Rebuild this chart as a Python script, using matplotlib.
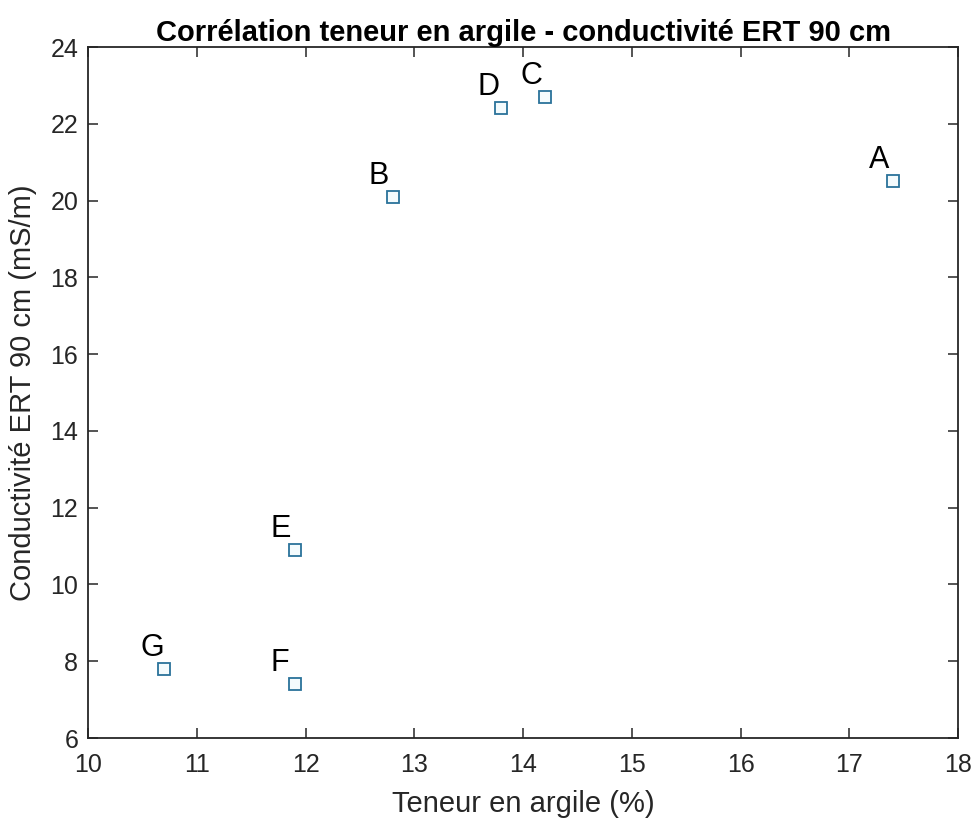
import matplotlib.pyplot as plt

plt.rcParams['font.family'] = ['Liberation Sans', 'DejaVu Sans']

# sample points
names = ['A', 'B', 'C', 'D', 'E', 'F', 'G']
argile = [17.4, 12.8, 14.2, 13.8, 11.9, 11.9, 10.7]
conduct = [20.5, 20.1, 22.7, 22.4, 10.9, 7.4, 7.8]

fig = plt.figure(figsize=(9.79, 8.19), dpi=100)
ax = fig.add_axes([0.0899, 0.0989, 0.8887, 0.8437])

ax.plot(argile, conduct, linestyle='none', marker='s', markersize=9,
        markerfacecolor='#f4fbfd', markeredgecolor='#2a729a', markeredgewidth=1.3)

for n, x, y in zip(names, argile, conduct):
    ax.text(x - 0.22, y + 0.55, n, fontsize=22, color='black', ha='left', va='center')

ax.set_xlim(10, 18)
ax.set_ylim(6, 24)
ax.set_xticks(range(10, 19))
ax.set_yticks(range(6, 25, 2))

grey = '#262626'
for s in ax.spines.values():
    s.set_color(grey)
    s.set_linewidth(1.3)
ax.tick_params(direction='in', length=7, width=1.1, colors=grey, labelsize=18,
               top=True, right=True)
ax.tick_params(axis='x', pad=11)
ax.tick_params(axis='y', pad=7)

ax.set_xlabel('Teneur en argile (%)', fontsize=21, color=grey, labelpad=9)
ax.set_ylabel('Conductivité ERT 90 cm (mS/m)', fontsize=21, color=grey, labelpad=10)
ax.set_title('Corrélation teneur en argile - conductivité ERT 90 cm',
             fontsize=21, fontweight='bold', color='black', pad=4)

fig.savefig('out.png', dpi=100)
